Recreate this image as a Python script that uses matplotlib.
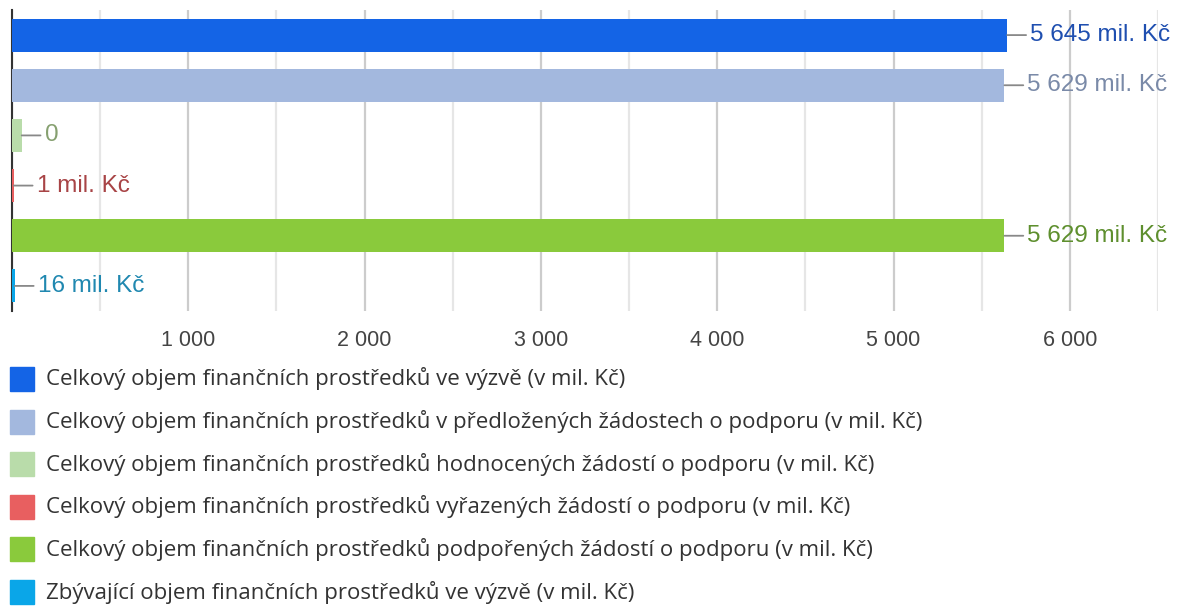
import numpy as np
import matplotlib.pyplot as plt
from matplotlib.patches import Rectangle
from matplotlib.ticker import MultipleLocator, FuncFormatter

# Data
labels = [
    "Celkový objem finančních prostředků ve výzvě (v mil. Kč)",
    "Celkový objem finančních prostředků v předložených žádostech o podporu (v mil. Kč)",
    "Celkový objem finančních prostředků hodnocených žádostí o podporu (v mil. Kč)",
    "Celkový objem finančních prostředků vyřazených žádostí o podporu (v mil. Kč)",
    "Celkový objem finančních prostředků podpořených žádostí o podporu (v mil. Kč)",
    "Zbývající objem finančních prostředků ve výzvě (v mil. Kč)",
]
values = [5645, 5629, 55, 10, 5629, 16]
value_texts = ["5 645 mil. Kč", "5 629 mil. Kč", "0", "1 mil. Kč", "5 629 mil. Kč", "16 mil. Kč"]
bar_colors = ["#1464e6", "#a3b8de", "#b9dcaa", "#e85f60", "#8aca3c", "#0aa6e8"]
text_colors = ["#1f4fb0", "#7a8aa8", "#86a070", "#a84446", "#5e8f2e", "#2088b0"]

W, H = 1182, 606
fig = plt.figure(figsize=(W / 100, H / 100), dpi=100)
ax = fig.add_axes([12 / W, (H - 311) / H, (1158 - 12) / W, (311 - 10) / H])

y = np.arange(len(values))
ax.barh(y, values, height=0.66, color=bar_colors, edgecolor="none", zorder=3)
ax.set_ylim(len(values) - 0.5, -0.5)
ax.set_xlim(0, 6500)

# Value labels with short leader lines (line runs from bar end to the text)
for i, (v, t, c) in enumerate(zip(values, value_texts, text_colors)):
    ax.annotate(t, xy=(v, i), xytext=(23, 0), textcoords="offset pixels",
                ha="left", va="center", color=c, fontsize=17.5, family="Liberation Sans",
                arrowprops=dict(arrowstyle="-", color="#888888", lw=1.3,
                                shrinkA=1, shrinkB=0), zorder=4)

# Grid and axes
ax.xaxis.set_major_locator(MultipleLocator(1000))
ax.xaxis.set_minor_locator(MultipleLocator(500))
ax.xaxis.set_major_formatter(FuncFormatter(lambda x, p: "" if x == 0 else f"{int(x):,}".replace(",", " ")))
ax.grid(axis="x", which="major", color="#cccccc", lw=1.6, zorder=0)
ax.grid(axis="x", which="minor", color="#e6e6e6", lw=1.6, zorder=0)
ax.tick_params(axis="x", which="both", length=0, pad=14, labelsize=15.5, labelcolor="#444444")
for lab in ax.get_xticklabels():
    lab.set_family("Liberation Sans")
ax.set_yticks([])
for s in ["top", "right", "bottom"]:
    ax.spines[s].set_visible(False)
ax.spines["left"].set_color("#333333")
ax.spines["left"].set_linewidth(1.5)
ax.spines["left"].set_zorder(2)

# Legend drawn by hand under the chart
for i, (lab, c) in enumerate(zip(labels, bar_colors)):
    yc = 379 + i * 42.6
    fig.add_artist(Rectangle((10 / W, (H - yc - 12) / H), 24 / W, 24 / H,
                             transform=fig.transFigure, color=c))
    fig.text(46 / W, (H - yc) / H, lab, ha="left", va="center", fontsize=16,
             color="#333333", family="Open Sans")

fig.savefig("out.png", dpi=100)
